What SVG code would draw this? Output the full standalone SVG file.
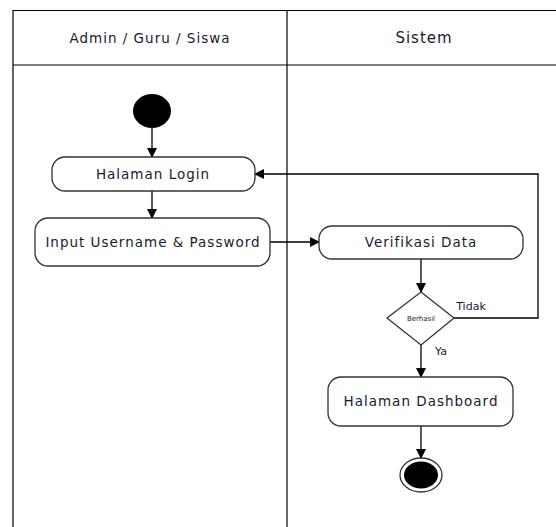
<svg xmlns="http://www.w3.org/2000/svg" width="556" height="527" viewBox="0 0 556 527">
<defs>
<marker id="arr" markerWidth="10" markerHeight="10" refX="9" refY="5" orient="auto" markerUnits="userSpaceOnUse">
<path d="M0,0 L10,5 L0,10 Z" fill="#000"/>
</marker>
<style>
.lane{fill:none;stroke:#000;stroke-width:1.2}
.border{fill:none;stroke:#666;stroke-width:2}
.act{fill:#fff;stroke:#333;stroke-width:1.3}
.t{font-family:"DejaVu Sans",Verdana,sans-serif;font-size:13.5px;letter-spacing:1px;fill:#1a1a2e;text-anchor:middle;dominant-baseline:central}
.s{font-family:"DejaVu Sans",Verdana,sans-serif;font-size:11px;fill:#1a1a2e;text-anchor:middle;dominant-baseline:central}
.c{fill:none;stroke:#000;stroke-width:1.3}
</style>
</defs>
<rect width="556" height="527" fill="#fff"/>
<g id="swimlanes">
<line class="border" x1="13" y1="10" x2="13" y2="527"/>
<line class="lane" x1="13" y1="10.5" x2="556" y2="10.5"/>
<line class="lane" x1="13" y1="65" x2="556" y2="65"/>
<line class="lane" x1="287" y1="10" x2="287" y2="527"/>
<text class="t" x="150" y="38">Admin / Guru / Siswa</text>
<text class="t" x="424" y="38" style="font-size:15px">Sistem</text>
</g>
<g id="connectors">
<line class="c" x1="152" y1="128" x2="152" y2="157" marker-end="url(#arr)"/>
<line class="c" x1="152" y1="191" x2="152" y2="218" marker-end="url(#arr)"/>
<line class="c" x1="270" y1="242" x2="319" y2="242" marker-end="url(#arr)"/>
<line class="c" x1="421" y1="259" x2="421" y2="292" marker-end="url(#arr)"/>
<polyline class="c" points="454,318 538,318 538,174 255,174" marker-end="url(#arr)"/>
<line class="c" x1="421" y1="345" x2="421" y2="377" marker-end="url(#arr)"/>
<line class="c" x1="421" y1="426" x2="421" y2="458" marker-end="url(#arr)"/>
<text class="s" x="471" y="306">Tidak</text>
<text class="s" x="441" y="351">Ya</text>
</g>
<g id="start">
<ellipse cx="152" cy="111" rx="19" ry="17" fill="#000"/>
</g>
<g id="halaman-login">
<rect class="act" x="52" y="157" width="203" height="34" rx="13"/>
<text class="t" x="153" y="174">Halaman Login</text>
</g>
<g id="input">
<rect class="act" x="35" y="218" width="235" height="48" rx="13"/>
<text class="t" x="153" y="242">Input Username &amp; Password</text>
</g>
<g id="verifikasi">
<rect class="act" x="319" y="226" width="204" height="33" rx="13"/>
<text class="t" x="421" y="242">Verifikasi Data</text>
</g>
<g id="berhasil">
<polygon class="act" points="421,292 454,318 421,345 387,318"/>
<text class="s" x="421" y="319" style="font-size:7px">Berhasil</text>
</g>
<g id="dashboard">
<rect class="act" x="328" y="377" width="185" height="49" rx="13"/>
<text class="t" x="421" y="401">Halaman Dashboard</text>
</g>
<g id="end">
<ellipse cx="421" cy="475" rx="21" ry="17" fill="#fff" stroke="#333" stroke-width="1.3"/>
<ellipse cx="421" cy="475" rx="17" ry="13.5" fill="#000"/>
</g>
</svg>
